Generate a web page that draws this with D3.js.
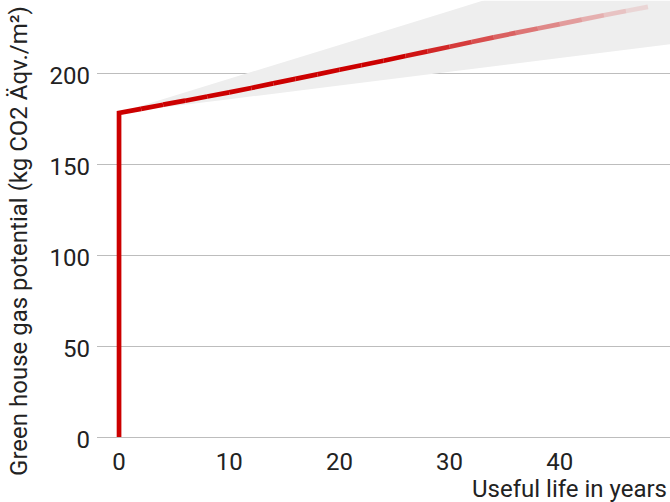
<!DOCTYPE html>
<html>
<head>
<meta charset="utf-8">
<script src="https://cdn.jsdelivr.net/npm/d3@7"></script>
<style>
  body { margin: 0; background: #fff; }
  text { font-family: Roboto, "Noto Sans", sans-serif; fill: #222; }
</style>
</head>
<body>
<div id="chart"></div>
<script>
// useful life (years) and greenhouse gas potential
var years = [0, 2, 4, 6, 8, 10, 12, 14, 16, 18, 20, 22, 24, 26, 28, 30, 32, 34, 36, 38, 40, 42, 44, 46, 48];
var ghg = [178.3, 180.5, 182.8, 185.0, 187.3, 189.6, 192.0, 194.5, 197.0, 199.5, 202.0, 204.5, 207.0,
           209.6, 212.1, 214.7, 217.3, 219.8, 222.3, 224.7, 227.1, 229.6, 232.0, 234.3, 236.6];

// uncertainty band (grey cone)
var bandYears = [0, 10, 20, 30, 40, 50];
var bandLow = [178.3, 185.8, 193.4, 200.9, 208.5, 216.0];
var bandHigh = [178.3, 197.0, 215.7, 234.4, 253.1, 271.8];

var yTicks = [0, 50, 100, 150, 200];
var xTicks = [0, 10, 20, 30, 40];

var w = 670;
var h = 502;

var x = d3.scaleLinear().domain([-2, 50]).range([97, 670]);
var y = d3.scaleLinear().domain([0, 240]).range([437, 0.7]);

var svg = d3.select('#chart')
  .append('svg')
    .attr('width', w)
    .attr('height', h);

svg.append('clipPath')
    .attr('id', 'plot-clip')
  .append('rect')
    .attr('x', x(-2))
    .attr('y', y(240))
    .attr('width', x(50) - x(-2))
    .attr('height', y(0) - y(240) + 3);

// grid lines
svg.append('g')
  .selectAll('line')
  .data(yTicks)
  .enter()
  .append('line')
    .attr('x1', x(-2))
    .attr('x2', x(50))
    .attr('y1', function(d) { return Math.round(y(d)) + 0.5; })
    .attr('y2', function(d) { return Math.round(y(d)) + 0.5; })
    .attr('stroke', '#bdbdbd')
    .attr('stroke-width', 1);

// y tick labels
svg.append('g')
  .selectAll('text')
  .data(yTicks)
  .enter()
  .append('text')
    .attr('x', 90)
    .attr('y', function(d) { return y(d); })
    .attr('dy', '0.45em')
    .attr('text-anchor', 'end')
    .style('font-size', '24px')
    .text(function(d) { return d; });

// x tick labels
svg.append('g')
  .selectAll('text')
  .data(xTicks)
  .enter()
  .append('text')
    .attr('x', function(d) { return x(d); })
    .attr('y', 470)
    .attr('text-anchor', 'middle')
    .style('font-size', '24px')
    .text(function(d) { return d; });

// axis titles
svg.append('text')
  .attr('x', 667)
  .attr('y', 497)
  .attr('text-anchor', 'end')
  .style('font-size', '24px')
  .text('Useful life in years');

svg.append('text')
  .attr('transform', 'translate(27, 241) rotate(-90)')
  .attr('text-anchor', 'middle')
  .style('font-size', '24px')
  .text('Green house gas potential (kg CO2 Äqv./m²)');

var plot = svg.append('g').attr('clip-path', 'url(#plot-clip)');

// band
var band = bandYears.map(function(d, i) { return { year: d, low: bandLow[i], high: bandHigh[i] }; });
plot.append('path')
  .datum(band)
  .attr('fill', '#eeeeee')
  .attr('d', d3.area()
    .x(function(d) { return x(d.year); })
    .y0(function(d) { return y(d.low); })
    .y1(function(d) { return y(d.high); }));

// the line: vertical jump at year 0, then segments that fade out
var pts = years.map(function(d, i) { return { year: d, value: ghg[i] }; });
var line = d3.line()
  .x(function(d) { return x(d.year); })
  .y(function(d) { return y(d.value); });

var fade = d3.scaleLinear().domain([25, 47]).range([1, 0.1]).clamp(true);

plot.append('path')
  .datum([{ year: 0, value: 0 }, pts[0], pts[1]])
  .attr('fill', 'none')
  .attr('stroke', '#cc0000')
  .attr('stroke-width', 4.7)
  .attr('stroke-linejoin', 'miter')
  .attr('d', line);

var segs = d3.pairs(pts).slice(1);
plot.selectAll('.seg')
  .data(segs)
  .enter()
  .append('path')
    .attr('class', 'seg')
    .attr('fill', 'none')
    .attr('stroke', '#cc0000')
    .attr('stroke-width', 4.7)
    .attr('stroke-opacity', function(d) { return fade((d[0].year + d[1].year) / 2); })
    .attr('d', function(d) { return line(d); });
</script>
</body>
</html>
